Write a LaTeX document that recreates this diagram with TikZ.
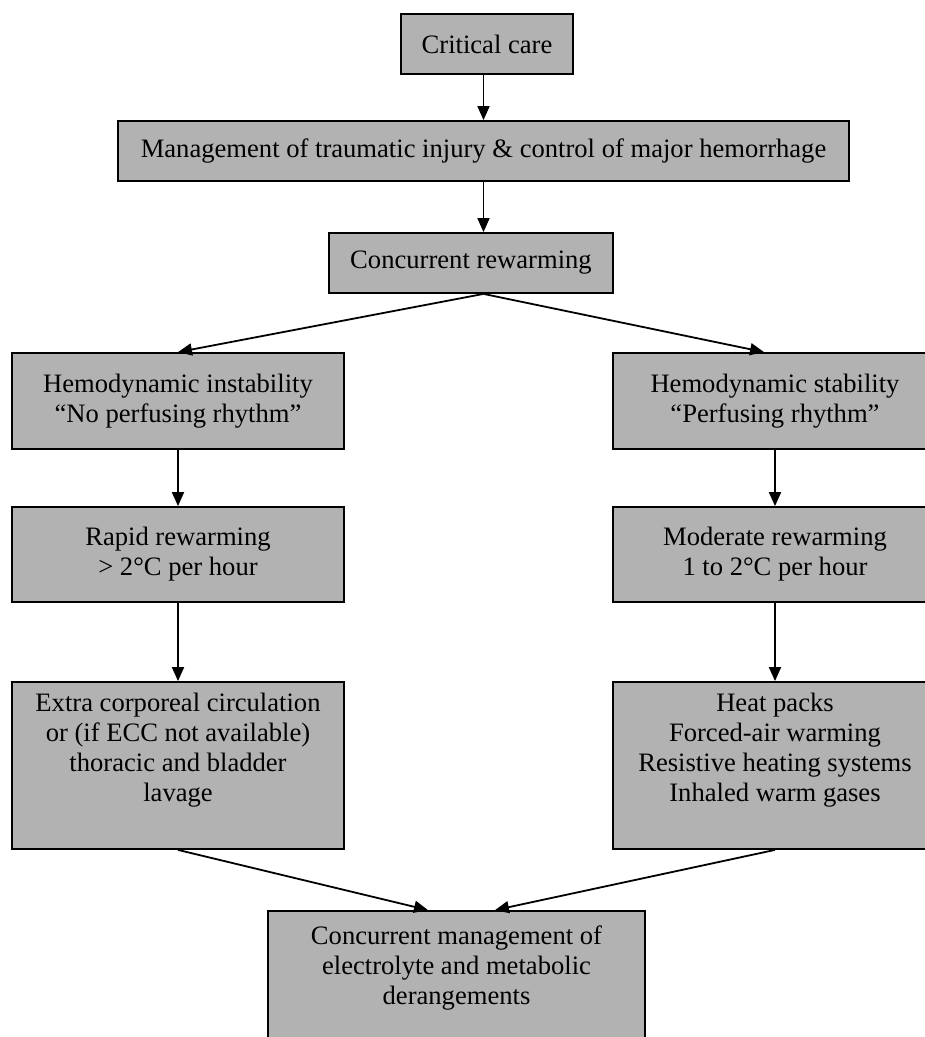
\documentclass[tikz,border=0pt]{standalone}
\usepackage{fontspec}
\setmainfont{Liberation Serif}
\usetikzlibrary{arrows.meta}
\newcommand{\boxfont}{\fontsize{26.6}{30}\selectfont}

\begin{document}
\begin{tikzpicture}[x=1pt,y=-1pt,
        box/.style={draw=black,line width=1.8pt,fill=black!30,align=center,font=\boxfont,inner sep=0pt},
        link/.style={line width=1.8pt,-{Triangle[length=14pt,width=12pt]}}]
        \useasboundingbox (0,0) rectangle (925,1037);
        \clip (0,0) rectangle (925,1037);
        \node[box,minimum width=172pt,minimum height=60pt] (crit) at (487,44) {Critical care};
        \node[box,minimum width=731pt,minimum height=60pt] (mgmt) at (483.5,151) {Management of traumatic injury \& control of major hemorrhage};
        \node[box,minimum width=284pt,minimum height=60pt] (rewarm) at (471,263) {Concurrent rewarming};
        \node[box,minimum width=332pt,minimum height=96pt] (unstab) at (178,401) {Hemodynamic instability\\“No perfusing rhythm”};
        \node[box,minimum width=324pt,minimum height=96pt] (stab) at (775,401) {Hemodynamic stability\\“Perfusing rhythm”};
        \node[box,minimum width=332pt,minimum height=95pt] (rapid) at (178,554.5) {Rapid rewarming\\> 2°C per hour};
        \node[box,minimum width=324pt,minimum height=95pt] (moder) at (775,554.5) {Moderate rewarming\\1 to 2°C per hour};
        \node[box,minimum width=332pt,minimum height=167pt] (ecc) at (178,765.5) {Extra corporeal circulation\\or (if ECC not available)\\thoracic and bladder\\lavage\\[6pt]};
        \node[box,minimum width=324pt,minimum height=167pt] (heat) at (775,765.5) {Heat packs\\Forced-air warming\\Resistive heating systems\\Inhaled warm gases\\[6pt]};
        \node[box,minimum width=377pt,minimum height=150pt,
            label={[name=electrotext,anchor=north,align=center,font=\boxfont,inner sep=0pt,yshift=-15pt]north:{Concurrent management of\\electrolyte and metabolic\\derangements}}] (electro) at (456.5,986) {};

        \draw[link] (crit.south -| mgmt.north) -- (mgmt.north);
        \draw[link] (mgmt.south) -- (mgmt.south |- rewarm.north);
        \draw[link] (rewarm.south -| mgmt.south) -- (unstab.north);
        \draw[link] (rewarm.south -| mgmt.south) -- ([xshift=-11pt]stab.north);
        \draw[link] (unstab.south) -- (rapid.north);
        \draw[link] (stab.south) -- (moder.north);
        \draw[link] (rapid.south) -- (ecc.north);
        \draw[link] (moder.south) -- (heat.north);
        \draw[link] (ecc.south) -- ([xshift=-28.5pt]electro.north);
        \draw[link] (heat.south) -- ([xshift=38.5pt]electro.north);
\end{tikzpicture}
\end{document}
